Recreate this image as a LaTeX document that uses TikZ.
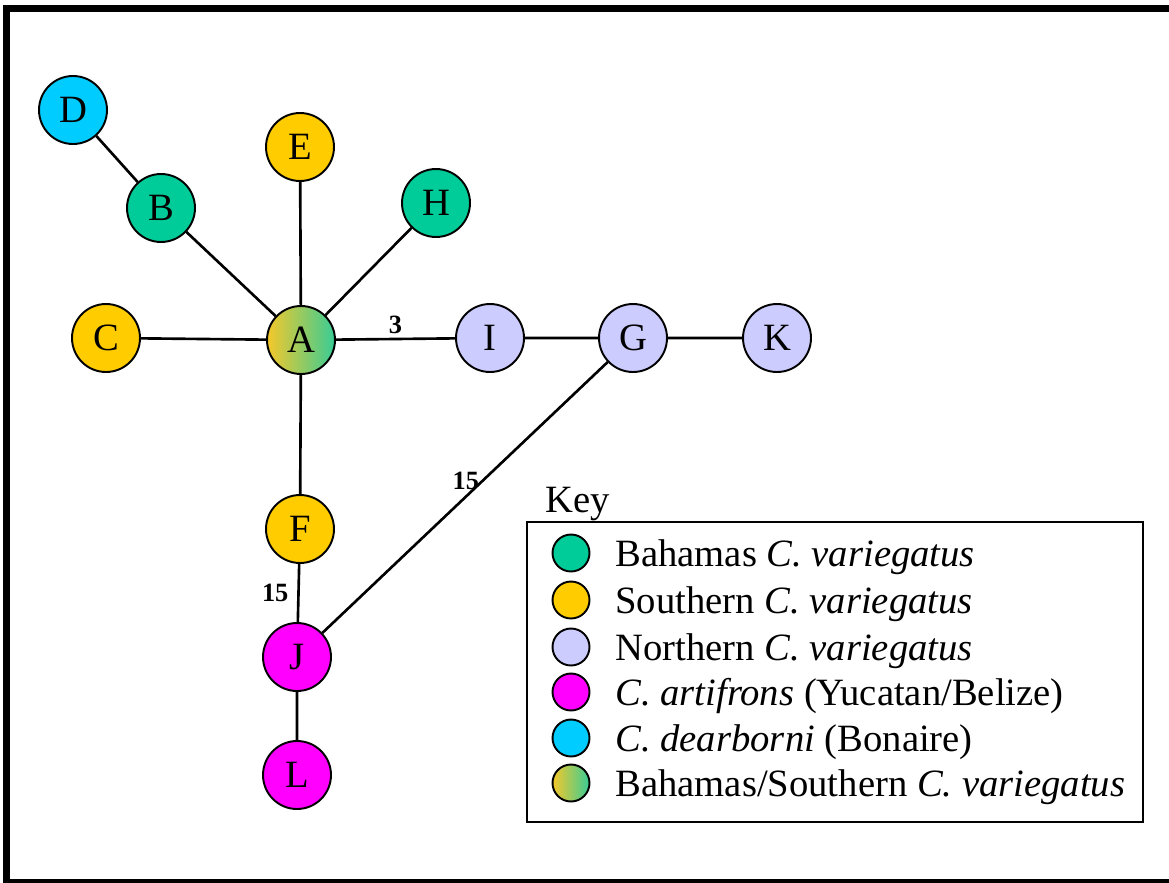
\documentclass[tikz,border=0pt]{standalone}
\usepackage{fontspec}
\setmainfont{Liberation Serif}
\definecolor{bahamas}{HTML}{00CC99}
\definecolor{southern}{HTML}{FFCC00}
\definecolor{northern}{HTML}{CCCCFF}
\definecolor{artifrons}{HTML}{FF00FF}
\definecolor{dearborni}{HTML}{00CCFF}
\definecolor{mixleft}{HTML}{F5C82A}
\definecolor{mixmid}{HTML}{D0C87E}
\definecolor{mixright}{HTML}{38CC96}

\begin{document}
\begin{tikzpicture}[x=0.02cm, y=-0.02cm,
    hap/.style={circle, draw, line width=1.1pt, minimum size=1.36cm, inner sep=0pt, font=\fontsize{22}{26}\selectfont},
    mixed/.style={left color=mixleft, middle color=mixmid, right color=mixright},
    link/.style={line width=1.5pt},
    steps/.style={font=\fontsize{15}{18}\selectfont\bfseries, inner sep=2pt},
    keydot/.style={circle, draw, line width=1.1pt, minimum size=0.74cm, inner sep=0pt},
    keytext/.style={anchor=base west, inner sep=0pt, font=\fontsize{22}{26}\selectfont}]
    \useasboundingbox (0,0) rectangle (1169,882);
    \draw[line width=4pt] (1175,8.5) -- (6.5,8.5) -- (6.5,882.5) -- (1175,882.5);

    \node[hap, fill=dearborni] (D) at (73,110) {D};
    \node[hap, fill=bahamas] (B) at (161,208) {B};
    \node[hap, fill=southern] (E) at (300,147) {E};
    \node[hap, fill=bahamas] (H) at (436,203) {H};
    \node[hap, fill=southern] (C) at (106,338) {C};
    \node[hap, mixed] (A) at (301,340) {A};
    \node[hap, fill=northern] (I) at (490,338) {I};
    \node[hap, fill=northern] (G) at (633,338) {G};
    \node[hap, fill=northern] (K) at (777,338) {K};
    \node[hap, fill=southern] (F) at (300,529) {F};
    \node[hap, fill=artifrons] (J) at (297,657) {J};
    \node[hap, fill=artifrons] (L) at (297,775) {L};

    \draw[link] (D) -- (B) (B) -- (A) (E) -- (A) (H) -- (A) (C) -- (A)
        (I) -- (G) (G) -- (K) (A) -- (F) (J) -- (L);
    \draw[link] (A) -- node[steps, above] {3} (I);
    \draw[link] (F) -- node[steps, left, inner sep=5pt] {15} (J);
    \draw[link] (G) -- node[steps, pos=0.44, left, inner sep=1pt] {15} (J);

    \node[keytext] (key) at (545,512) {Key};
    \draw[line width=1.1pt] (527,522) rectangle (1143,822);
    \node[keydot, fill=bahamas] (kb) at (571,553) {};
    \node[keydot, fill=southern] (ks) at (571,600) {};
    \node[keydot, fill=northern] (kn) at (571,647) {};
    \node[keydot, fill=artifrons] (ka) at (571,692) {};
    \node[keydot, fill=dearborni] (kd) at (571,738) {};
    \node[keydot, mixed] (km) at (571,783) {};
    \node[keytext] (tb) at (615,566) {Bahamas \textit{C. variegatus}};
    \node[keytext] (ts) at (615,613) {Southern \textit{C. variegatus}};
    \node[keytext] (tn) at (615,660) {Northern \textit{C. variegatus}};
    \node[keytext] (ta) at (615,705) {\textit{C. artifrons} (Yucatan/Belize)};
    \node[keytext] (td) at (615,751) {\textit{C. dearborni} (Bonaire)};
    \node[keytext] (tm) at (615,796) {Bahamas/Southern \textit{C. variegatus}};
\end{tikzpicture}
\end{document}
